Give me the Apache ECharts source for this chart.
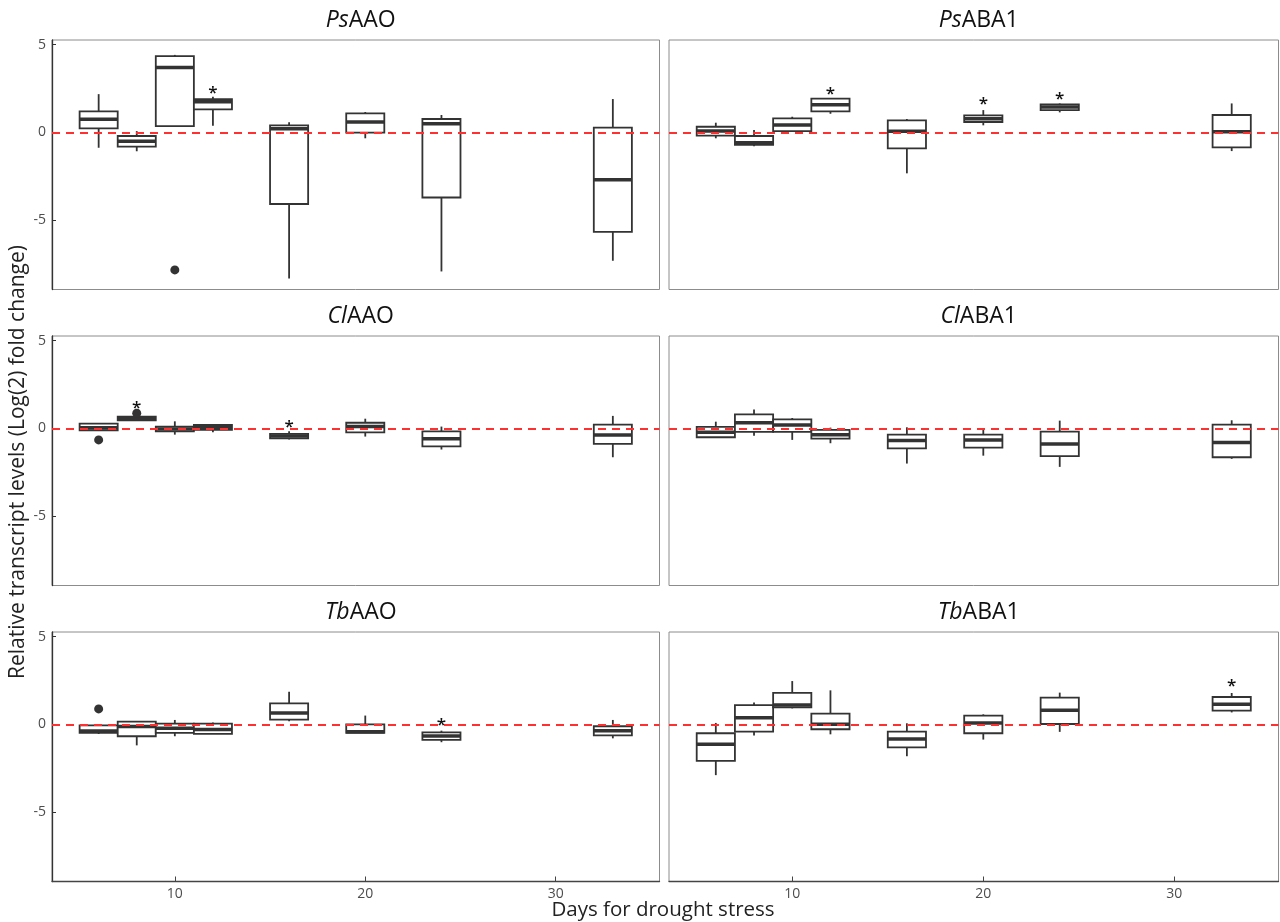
<!DOCTYPE html>
<html>
<head>
<meta charset="utf-8">
<script src="https://cdn.jsdelivr.net/npm/echarts@6/dist/echarts.min.js"></script>
<style>
    html, body { margin: 0; padding: 0; background: #fff; }
    #chart { width: 1280px; height: 922px; }
</style>
</head>
<body>
<div id="chart"></div>
<script>
    // 数据：每个箱子为 [下须, Q1, 中位数, Q3, 上须]
    var days = [6, 8, 10, 12, 16, 20, 24, 33];
    var xTicks = [10, 20, 30];
    var yTicks = [-5, 0, 5];

    var titleSpecies = ['Ps', 'Ps', 'Cl', 'Cl', 'Tb', 'Tb'];
    var titleGene = ['AAO', 'ABA1', 'AAO', 'ABA1', 'AAO', 'ABA1'];

    var psAAO = [
        [-0.88, 0.23, 0.74, 1.2, 2.18],
        [-1.08, -0.82, -0.51, -0.21, 0.07],
        [0.36, 0.36, 3.7, 4.35, 4.42],
        [0.38, 1.31, 1.74, 1.9, 2.03],
        [-8.34, -4.09, 0.2, 0.4, 0.57],
        [-0.34, -0.02, 0.59, 1.08, 1.16],
        [-7.94, -3.72, 0.49, 0.76, 0.99],
        [-7.33, -5.68, -2.7, 0.27, 1.9]
    ];
    var psABA1 = [
        [-0.34, -0.19, 0.07, 0.32, 0.55],
        [-0.8, -0.72, -0.59, -0.21, 0.13],
        [0.07, 0.07, 0.42, 0.8, 0.89],
        [1.06, 1.2, 1.57, 1.92, 1.94],
        [-2.34, -0.91, 0.06, 0.68, 0.76],
        [0.4, 0.59, 0.78, 0.97, 1.27],
        [1.14, 1.27, 1.44, 1.6, 1.65],
        [-1.07, -0.86, 0.04, 0.99, 1.65]
    ];
    var clAAO = [
        [-0.11, -0.11, 0.04, 0.27, 0.3],
        [0.44, 0.46, 0.58, 0.66, 0.68],
        [-0.36, -0.17, -0.04, 0.1, 0.4],
        [-0.23, -0.09, 0.04, 0.19, 0.25],
        [-0.64, -0.57, -0.44, -0.32, -0.17],
        [-0.47, -0.23, 0.1, 0.32, 0.55],
        [-1.21, -1.03, -0.59, -0.17, 0.1],
        [-1.65, -0.89, -0.38, 0.21, 0.71]
    ];
    var clABA1 = [
        [-0.51, -0.51, -0.23, 0.08, 0.38],
        [-0.43, -0.2, 0.32, 0.8, 1.08],
        [-0.66, -0.2, 0.19, 0.51, 0.59],
        [-0.85, -0.59, -0.36, -0.09, 0.04],
        [-2.01, -1.14, -0.7, -0.36, 0.06],
        [-1.56, -1.1, -0.66, -0.36, -0.09],
        [-2.2, -1.59, -0.89, -0.19, 0.44],
        [-1.74, -1.65, -0.81, 0.21, 0.46]
    ];
    var tbAAO = [
        [-0.55, -0.49, -0.38, -0.06, -0.06],
        [-1.2, -0.68, -0.13, 0.15, 0.19],
        [-0.68, -0.49, -0.23, 0.04, 0.25],
        [-0.55, -0.55, -0.3, 0.04, 0.1],
        [0.17, 0.27, 0.65, 1.2, 1.86],
        [-0.49, -0.49, -0.43, 0, 0.5],
        [-1.02, -0.89, -0.66, -0.46, -0.36],
        [-0.8, -0.63, -0.36, -0.11, 0.25]
    ];
    var tbABA1 = [
        [-2.9, -2.09, -1.14, -0.51, 0.08],
        [-0.64, -0.42, 0.38, 1.1, 1.24],
        [0.91, 0.97, 1.1, 1.79, 2.47],
        [-0.57, -0.28, 0, 0.61, 1.94],
        [-1.82, -1.31, -0.83, -0.42, 0.06],
        [-0.87, -0.51, 0.08, 0.5, 0.57],
        [-0.43, 0.02, 0.8, 1.52, 1.81],
        [0.68, 0.78, 1.14, 1.56, 1.79]
    ];

    // 离群点 [天数, 值]
    var outPsAAO = [[10, -7.85]];
    var outPsABA1 = [];
    var outClAAO = [[6, -0.66], [8, 0.86]];
    var outClABA1 = [];
    var outTbAAO = [[6, 0.88]];
    var outTbABA1 = [];

    // 显著性星号 [天数, 值]
    var starPsAAO = [[12, 2.47]];
    var starPsABA1 = [[12, 2.41], [20, 1.84], [24, 2.12]];
    var starClAAO = [[8, 1.39], [16, 0.32]];
    var starClABA1 = [];
    var starTbAAO = [[24, 0.21]];
    var starTbABA1 = [[33, 2.38]];

    var boxes = [psAAO, psABA1, clAAO, clABA1, tbAAO, tbABA1];
    var outliers = [outPsAAO, outPsABA1, outClAAO, outClABA1, outTbAAO, outTbABA1];
    var stars = [starPsAAO, starPsABA1, starClAAO, starClABA1, starTbAAO, starTbABA1];

    var BOX_WIDTH = 2; // 天
    var FONT = "'Open Sans', 'Noto Sans', sans-serif";

    var myChart = echarts.init(document.getElementById('chart'));

    var colLeft = [52, 669],
        colWidth = [607.5, 609.5],
        rowTop = [40, 336, 632],
        rowHeight = 249.5;

    var grids = [], xAxes = [], yAxes = [], titles = [], series = [];

    function renderBox(params, api) {
        var x = api.value(0);
        var lo = api.coord([x, api.value(1)]);
        var q1 = api.coord([x, api.value(2)]);
        var md = api.coord([x, api.value(3)]);
        var q3 = api.coord([x, api.value(4)]);
        var hi = api.coord([x, api.value(5)]);
        var hw = api.size([BOX_WIDTH, 0])[0] / 2;
        var cx = lo[0];
        var stroke = { stroke: '#333', lineWidth: 1.8 };
        return {
            type: 'group',
            children: [
                { type: 'line', shape: { x1: cx, y1: q3[1], x2: cx, y2: hi[1] }, style: stroke },
                { type: 'line', shape: { x1: cx, y1: q1[1], x2: cx, y2: lo[1] }, style: stroke },
                { type: 'rect', shape: { x: cx - hw, y: q3[1], width: hw * 2, height: q1[1] - q3[1] },
                    style: { fill: '#fff', stroke: '#333', lineWidth: 1.8 } },
                { type: 'line', shape: { x1: cx - hw, y1: md[1], x2: cx + hw, y2: md[1] },
                    style: { stroke: '#333', lineWidth: 3.5 } }
            ]
        };
    }

    function renderStar(params, api) {
        var p = api.coord([api.value(0), api.value(1)]);
        return {
            type: 'text',
            style: {
                x: p[0], y: p[1] + 4, text: '*', fill: '#111',
                font: '600 17px ' + FONT, textAlign: 'center', textVerticalAlign: 'middle'
            }
        };
    }

    for (var i = 0; i < 6; i++) {
        var col = i % 2, row = Math.floor(i / 2);
        grids.push({
            left: colLeft[col], top: rowTop[row], width: colWidth[col], height: rowHeight,
            show: true, borderColor: '#8c8c8c', borderWidth: 1, backgroundColor: '#fff'
        });
        titles.push({
            text: '{i|' + titleSpecies[i] + '}' + titleGene[i],
            left: colLeft[col] + colWidth[col] / 2,
            top: rowTop[row] - 36,
            textAlign: 'center',
            textStyle: {
                fontFamily: FONT, fontSize: 23, fontWeight: 'normal', color: '#111',
                rich: { i: { fontFamily: FONT, fontSize: 23, fontStyle: 'italic', color: '#111' } }
            }
        });
        xAxes.push({
            type: 'value', gridIndex: i, min: 3.55, max: 35.45,
            axisLine: { show: row === 2, onZero: false, lineStyle: { color: '#444', width: 1.3 } },
            axisTick: { show: row === 2, inside: true, length: 5, customValues: xTicks, lineStyle: { color: '#444' } },
            axisLabel: { show: row === 2, customValues: xTicks, margin: 6, color: '#4d4d4d', fontSize: 14, fontFamily: FONT },
            splitLine: { show: false }
        });
        yAxes.push({
            type: 'value', gridIndex: i, min: -8.97, max: 5.27,
            axisLine: { show: col === 0, onZero: false, lineStyle: { color: '#333', width: 1.3 } },
            axisTick: { show: col === 0, inside: true, length: 4, customValues: yTicks, lineStyle: { color: '#333' } },
            axisLabel: { show: col === 0, customValues: yTicks, margin: 6, color: '#4d4d4d', fontSize: 14, fontFamily: FONT },
            splitLine: { show: false }
        });
        series.push({
            type: 'custom', xAxisIndex: i, yAxisIndex: i, z: 2,
            renderItem: renderBox,
            encode: { x: 0, y: [1, 2, 3, 4, 5] },
            data: days.map(function (d, k) { return [d].concat(boxes[i][k]); })
        });
        series.push({
            type: 'scatter', xAxisIndex: i, yAxisIndex: i, z: 3,
            symbolSize: 9, itemStyle: { color: '#333', opacity: 1 },
            data: outliers[i]
        });
        series.push({
            type: 'custom', xAxisIndex: i, yAxisIndex: i, z: 10,
            renderItem: renderStar,
            data: stars[i],
            markLine: {
                silent: true, symbol: 'none', animation: false,
                label: { show: false },
                lineStyle: { color: '#ff3030', type: [8, 6], width: 2, opacity: 1 },
                data: [{ yAxis: 0 }]
            }
        });
    }

    var option = {
        animation: false,
        backgroundColor: '#fff',
        title: titles,
        grid: grids,
        xAxis: xAxes,
        yAxis: yAxes,
        series: series,
        graphic: [{
            type: 'text', x: 18, y: 462, rotation: Math.PI / 2,
            style: {
                text: 'Relative transcript levels (Log(2) fold change)',
                font: '21px ' + FONT, fill: '#222', textAlign: 'center', textVerticalAlign: 'middle'
            }
        }, {
            type: 'text', x: 663, y: 910,
            style: {
                text: 'Days for drought stress',
                font: '20.5px ' + FONT, fill: '#222', textAlign: 'center', textVerticalAlign: 'middle'
            }
        }]
    };
    myChart.setOption(option);
</script>
</body>
</html>
